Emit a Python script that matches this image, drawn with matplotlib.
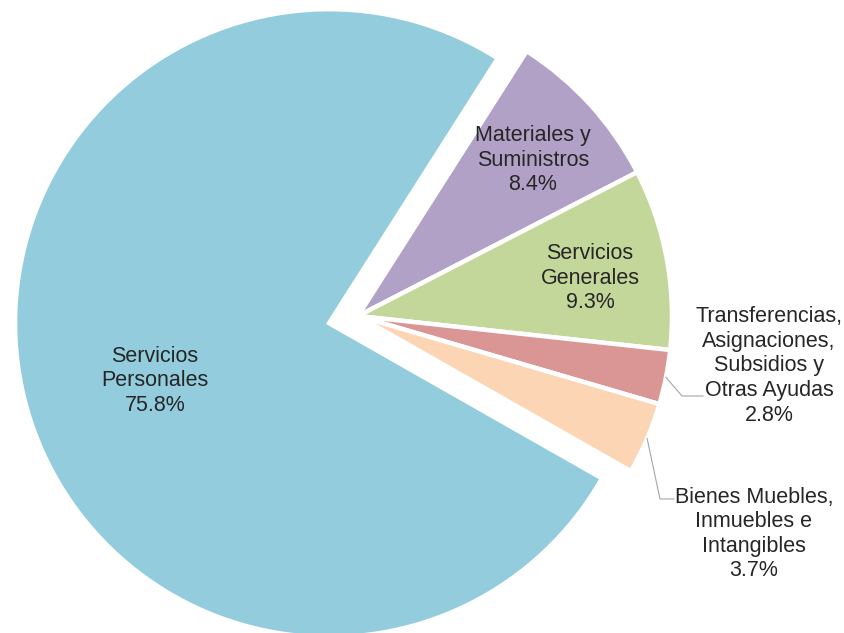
import numpy as np
import matplotlib
matplotlib.use("Agg")
import matplotlib.pyplot as plt

# Data (clockwise from the top)
categories = ['Materiales y\nSuministros',
              'Servicios\nGenerales',
              'Transferencias,\nAsignaciones,\nSubsidios y\nOtras Ayudas',
              'Bienes Muebles,\nInmuebles e\nIntangibles',
              'Servicios\nPersonales']
shares = [8.4, 9.3, 2.8, 3.7, 75.8]
colors = ['#B2A1C7', '#C4D79B', '#D99694', '#FCD5B5', '#93CDDD']
explode = [0, 0, 0, 0, 0.095]

# Layout in image pixels (y measured from the top)
W, H = 845, 633
center = (358, 316)
radius = 314
label_pos = [(533, 160), (590, 278), (769, 366), (754, 534), (155, 381)]
leader_elbow = {2: [(682, 396), (703, 396)], 3: [(660, 499), (674, 499)]}

fig = plt.figure(figsize=(W / 100, H / 100), dpi=100)
ax = fig.add_axes([0, 0, 1, 1])

# matplotlib's explode offset is in data units, so scale it by the radius
wedges, _ = ax.pie(shares, colors=colors,
                   explode=[e * radius for e in explode],
                   startangle=57.5, counterclock=False,
                   center=(center[0], H - center[1]), radius=radius,
                   wedgeprops=dict(edgecolor='white', linewidth=3.2))

for i, (cat, val) in enumerate(zip(categories, shares)):
    x, y = label_pos[i]
    ax.text(x, H - y, f"{cat}\n{val:.1f}%", ha='center', va='center',
            fontsize=15.5, color='#262626', linespacing=1.22,
            family=['Liberation Sans', 'DejaVu Sans'])
    if i in leader_elbow:
        w = wedges[i]
        ang = np.deg2rad((w.theta1 + w.theta2) / 2)
        cx, cy = w.center
        pts = [(cx + w.r * np.cos(ang), cy + w.r * np.sin(ang))]
        pts += [(px, H - py) for px, py in leader_elbow[i]]
        xs, ys = zip(*pts)
        ax.plot(xs, ys, color='#A6A6A6', linewidth=0.8)

ax.set_xlim(0, W)
ax.set_ylim(0, H)
ax.set_aspect('auto')
ax.axis('off')

fig.savefig('out.png', dpi=100, facecolor='white')
